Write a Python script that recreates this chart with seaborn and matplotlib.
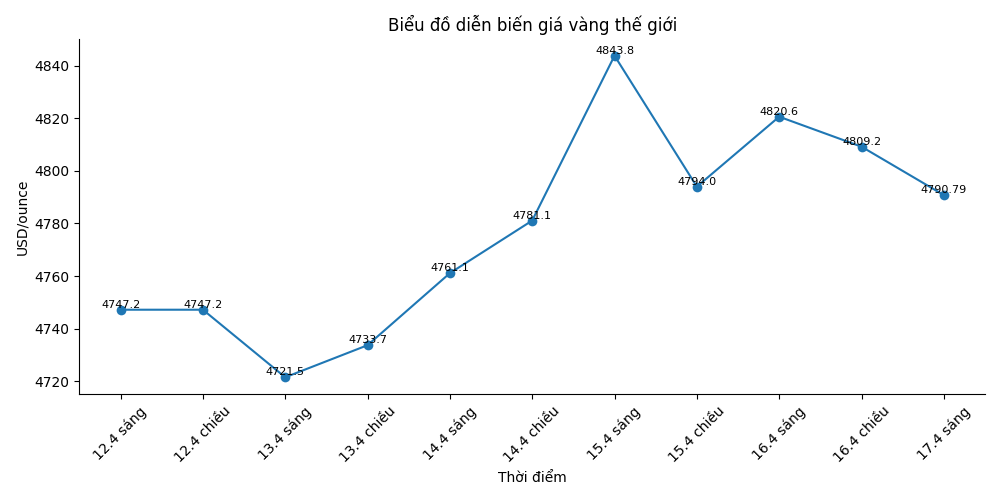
import matplotlib
matplotlib.use("Agg")
import matplotlib.pyplot as plt
import seaborn as sns
import pandas as pd

times = ["12.4 sáng", "12.4 chiều", "13.4 sáng", "13.4 chiều", "14.4 sáng", "14.4 chiều",
         "15.4 sáng", "15.4 chiều", "16.4 sáng", "16.4 chiều", "17.4 sáng"]
prices = [4747.2, 4747.2, 4721.5, 4733.7, 4761.1, 4781.1, 4843.8, 4794.0, 4820.6, 4809.2, 4790.79]
price_labels = ["4747.2", "4747.2", "4721.5", "4733.7", "4761.1", "4781.1", "4843.8",
                "4794.0", "4820.6", "4809.2", "4790.79"]

df = pd.DataFrame({"t": times, "p": prices})
fig, ax = plt.subplots(figsize=(10, 5), dpi=100)
sns.lineplot(data=df, x="t", y="p", marker="o", markersize=7, markeredgewidth=0,
             color="#1f77b4", ax=ax, sort=False)
for i, (v, s) in enumerate(zip(prices, price_labels)):
    ax.text(i, v, s, ha="center", va="bottom", fontsize=8)
ax.set_title("Biểu đồ diễn biến giá vàng thế giới")
ax.set_xlabel("Thời điểm")
ax.set_ylabel("USD/ounce")
ax.set_ylim(4715, 4850)
plt.xticks(rotation=45)
sns.despine(ax=ax)
fig.tight_layout()
fig.savefig("out.png")
